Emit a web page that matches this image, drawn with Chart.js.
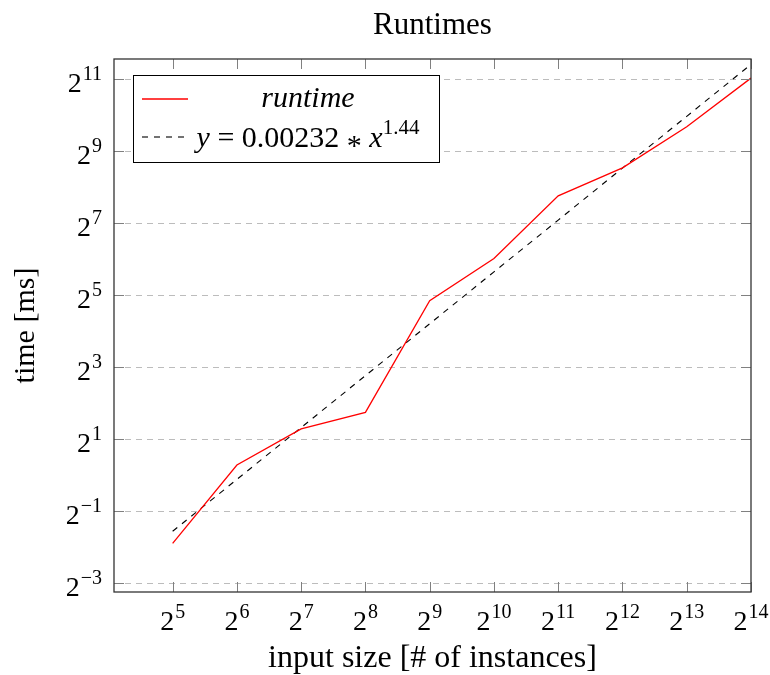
<!DOCTYPE html>
<html>
<head>
<meta charset="utf-8">
<script src="https://cdn.jsdelivr.net/npm/chart.js@4.4.1/dist/chart.umd.min.js"></script>
<style>
  html, body { margin: 0; padding: 0; background: #fff; }
  #wrap { width: 770px; height: 675px; }
</style>
</head>
<body>
<div id="wrap"><canvas id="myChart" width="770" height="675"></canvas></div>
<script>
// input sizes, 2^5 .. 2^14
const xSizes = [32, 64, 128, 256, 512, 1024, 2048, 4096, 8192, 16384];
// measured runtimes [ms]
const yRuntime = [0.270, 1.22, 2.45, 3.36, 28.8, 64.9, 217, 372, 820, 2090];
// fitted curve y = 0.00232 * x^1.44, read at the same sizes
const yFit = [0.341, 0.926, 2.51, 6.82, 18.5, 50.2, 136, 370, 1002, 2720];

// tick positions and their exponent labels (axes are base 2)
const xTicks = [32, 64, 128, 256, 512, 1024, 2048, 4096, 8192, 16384];
const xTickLabels = ['5', '6', '7', '8', '9', '10', '11', '12', '13', '14'];
const yTicks = [0.125, 0.5, 2, 8, 32, 128, 512, 2048];
const yTickLabels = ['\u22123', '\u22121', '1', '3', '5', '7', '9', '11'];

const SERIF = "'Liberation Serif', 'Times New Roman', serif";
const BASE = 28;   // size of the "2" in tick labels
const SUP = 20;    // size of exponents

// draws 2^exp with baseline y; align 'right' or 'center' around x
function drawPower(ctx, exp, x, y, align) {
    ctx.font = BASE + 'px ' + SERIF;
    const wb = ctx.measureText('2').width;
    ctx.font = SUP + 'px ' + SERIF;
    const we = ctx.measureText(exp).width;
    const total = wb + 1 + we;
    const left = align === 'right' ? x - total : x - total / 2;
    ctx.textAlign = 'left';
    ctx.textBaseline = 'alphabetic';
    ctx.font = BASE + 'px ' + SERIF;
    ctx.fillText('2', left, y);
    ctx.font = SUP + 'px ' + SERIF;
    ctx.fillText(exp, left + wb + 1, y - 12);
}

// frame, inner ticks, tick labels, legend and title in pgfplots style
const pgfPlugin = {
    id: 'pgf',
    afterDatasetsDraw(chart) {
        const {ctx, chartArea: a, scales: {x, y}} = chart;
        ctx.save();

        // tick marks on all four sides
        ctx.strokeStyle = '#808080';
        ctx.lineWidth = 1;
        ctx.beginPath();
        xTicks.forEach(v => {
            const px = Math.round(x.getPixelForValue(v)) + 0.5;
            ctx.moveTo(px, a.bottom); ctx.lineTo(px, a.bottom - 10);
            ctx.moveTo(px, a.top); ctx.lineTo(px, a.top + 10);
        });
        yTicks.forEach(v => {
            const py = Math.round(y.getPixelForValue(v)) + 0.5;
            ctx.moveTo(a.left, py); ctx.lineTo(a.left + 10, py);
            ctx.moveTo(a.right, py); ctx.lineTo(a.right - 10, py);
        });
        ctx.stroke();

        // axis frame
        ctx.strokeStyle = '#333';
        ctx.lineWidth = 1.3;
        ctx.strokeRect(a.left, a.top, a.right - a.left, a.bottom - a.top);

        // tick labels
        ctx.fillStyle = '#000';
        xTicks.forEach((v, i) => drawPower(ctx, xTickLabels[i], x.getPixelForValue(v), 630, 'center'));
        yTicks.forEach((v, i) => drawPower(ctx, yTickLabels[i], a.left - 12, y.getPixelForValue(v) + 13, 'right'));

        // title
        ctx.font = '31px ' + SERIF;
        ctx.textAlign = 'center';
        ctx.textBaseline = 'alphabetic';
        ctx.fillText('Runtimes', (a.left + a.right) / 2, 34);

        // legend
        const lx = 133.5, ly = 75.5, lw = 306, lh = 87;
        ctx.fillStyle = '#fff';
        ctx.fillRect(lx, ly, lw, lh);
        ctx.strokeStyle = '#000';
        ctx.lineWidth = 1;
        ctx.strokeRect(lx, ly, lw, lh);

        const ds = chart.data.datasets;
        const rows = [99, 137];
        ds.forEach((d, i) => {
            ctx.strokeStyle = d.borderColor;
            ctx.lineWidth = d.borderWidth;
            ctx.setLineDash(d.borderDash || []);
            ctx.beginPath();
            ctx.moveTo(142, rows[i]);
            ctx.lineTo(188, rows[i]);
            ctx.stroke();
        });
        ctx.setLineDash([]);
        ctx.fillStyle = '#000';
        const cx = 308;

        ctx.font = 'italic 30px ' + SERIF;
        ctx.textAlign = 'center';
        ctx.fillText(ds[0].label, cx, 107);

        const pieces = [
            {t: 'y', f: 'italic 30px ' + SERIF, dy: 0},
            {t: ' = ', f: '30px ' + SERIF, dy: 0},
            {t: '0.00232', f: '30px ' + SERIF, dy: 0},
            {t: ' * ', f: '30px ' + SERIF, dy: 8},
            {t: 'x', f: 'italic 30px ' + SERIF, dy: 0},
            {t: '1.44', f: '21px ' + SERIF, dy: -13}
        ];
        let total = 0;
        pieces.forEach(p => { ctx.font = p.f; p.w = ctx.measureText(p.t).width; total += p.w; });
        let px = cx - total / 2;
        ctx.textAlign = 'left';
        pieces.forEach(p => {
            ctx.font = p.f;
            ctx.fillText(p.t, px, 147 + p.dy);
            px += p.w;
        });

        ctx.restore();
    }
};

const ctx = document.getElementById('myChart');
const myChart = new Chart(ctx, {
    type: 'line',
    data: {
        datasets: [
            {
                label: 'runtime',
                data: xSizes.map((v, i) => ({x: v, y: yRuntime[i]})),
                borderColor: '#ff0000',
                borderWidth: 1.3,
                pointRadius: 0,
                fill: false,
                tension: 0,
            },
            {
                label: 'y = 0.00232 * x^1.44',
                data: xSizes.map((v, i) => ({x: v, y: yFit[i]})),
                borderColor: '#000000',
                borderWidth: 1.1,
                borderDash: [6, 6],
                pointRadius: 0,
                fill: false,
                tension: 0,
            },
        ]
    },
    options: {
        responsive: false,
        animation: false,
        layout: {
            padding: {top: 59, right: 19, left: 0, bottom: 0}
        },
        scales: {
            x: {
                type: 'logarithmic',
                min: 17.0,
                max: 16384,
                afterBuildTicks: s => { s.ticks = xTicks.map(v => ({value: v})); },
                afterFit: s => { s.height = 83; },
                ticks: {display: false},
                grid: {display: false},
                border: {display: false},
                title: {
                    display: true,
                    text: 'input size [# of instances]',
                    color: '#000',
                    font: {family: SERIF, size: 32, lineHeight: 1},
                    padding: {top: 0, bottom: 0}
                }
            },
            y: {
                type: 'logarithmic',
                min: 0.106,
                max: 3019,
                afterBuildTicks: s => { s.ticks = yTicks.map(v => ({value: v})); },
                afterFit: s => { s.width = 114; },
                ticks: {display: false},
                grid: {color: '#bcbcbc', lineWidth: 1, drawTicks: false},
                border: {display: false, dash: [6, 5]},
                title: {
                    display: true,
                    text: 'time [ms]',
                    color: '#000',
                    font: {family: SERIF, size: 30, lineHeight: 1.2},
                    padding: {top: 8, bottom: 0}
                }
            }
        },
        plugins: {
            legend: {display: false},
            title: {display: false},
            tooltip: {enabled: false}
        }
    },
    plugins: [pgfPlugin]
});
</script>
</body>
</html>
